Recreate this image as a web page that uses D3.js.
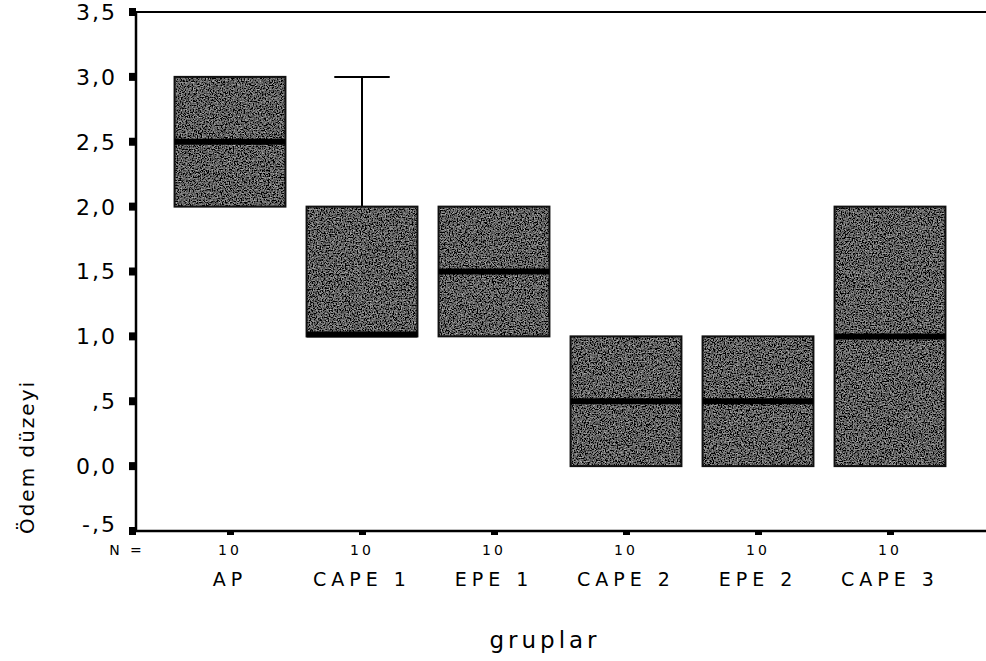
<!DOCTYPE html>
<html>
<head>
<meta charset="utf-8">
<script src="https://cdn.jsdelivr.net/npm/d3@7"></script>
<style>
  body { margin: 0; background: #fff; }
  text { font-family: "DejaVu Sans", "Liberation Sans", Arial, sans-serif; fill: #000; }
</style>
</head>
<body>
<div id="chart"></div>
<script>
// box plot data
var groups = ["AP", "CAPE 1", "EPE 1", "CAPE 2", "EPE 2", "CAPE 3"];
var counts = [10, 10, 10, 10, 10, 10];
var mins    = [2.0, 1.0, 1.0, 0.0, 0.0, 0.0];
var q1s     = [2.0, 1.0, 1.0, 0.0, 0.0, 0.0];
var medians = [2.5, 1.0, 1.5, 0.5, 0.5, 1.0];
var q3s     = [3.0, 2.0, 2.0, 1.0, 1.0, 2.0];
var maxs    = [3.0, 3.0, 2.0, 1.0, 1.0, 2.0];
var yTicks = [-0.5, 0, 0.5, 1, 1.5, 2, 2.5, 3, 3.5];
var yTickLabels = ["-,5", "0,0", ",5", "1,0", "1,5", "2,0", "2,5", "3,0", "3,5"];

var width = 986, height = 661;

var x = d3.scaleBand()
  .domain(groups)
  .range([164, 956])
  .paddingInner(0.16)
  .paddingOuter(0.08);

var y = d3.scaleLinear()
  .domain([-0.5, 3.5])
  .range([531, 12]);

var svg = d3.select("#chart").append("svg")
  .attr("width", width)
  .attr("height", height);

// grainy scan look for the boxes
var defs = svg.append("defs");
var f = defs.append("filter").attr("id", "grain")
  .attr("x", 0).attr("y", 0).attr("width", 1).attr("height", 1);
f.append("feTurbulence")
  .attr("type", "fractalNoise")
  .attr("baseFrequency", 0.75)
  .attr("numOctaves", 3)
  .attr("seed", 4)
  .attr("result", "noise");
f.append("feColorMatrix")
  .attr("in", "noise")
  .attr("type", "matrix")
  .attr("values", "0.33 0.33 0.33 0 0  0.33 0.33 0.33 0 0  0.33 0.33 0.33 0 0  0 0 0 0 1")
  .attr("result", "gray");
f.append("feComposite")
  .attr("in", "gray")
  .attr("in2", "SourceGraphic")
  .attr("operator", "arithmetic")
  .attr("k1", 0).attr("k2", 1.7).attr("k3", 1).attr("k4", -0.85)
  .attr("result", "mix");
f.append("feComposite")
  .attr("in", "mix")
  .attr("in2", "SourceGraphic")
  .attr("operator", "in");

var data = groups.map(function(g, i) {
  return { g: g, n: counts[i], min: mins[i], q1: q1s[i], med: medians[i], q3: q3s[i], max: maxs[i] };
});

// frame: left, top, bottom
svg.append("line")
  .attr("x1", 136).attr("x2", width)
  .attr("y1", y(3.5)).attr("y2", y(3.5))
  .attr("stroke", "#000").attr("stroke-width", 2);
svg.append("line")
  .attr("x1", 136).attr("x2", width)
  .attr("y1", y(-0.5)).attr("y2", y(-0.5))
  .attr("stroke", "#000").attr("stroke-width", 2.5);
svg.append("line")
  .attr("x1", 136).attr("x2", 136)
  .attr("y1", y(3.5)).attr("y2", y(-0.5))
  .attr("stroke", "#000").attr("stroke-width", 2.5);

// y ticks (little squares) and labels
var yg = svg.append("g");
yg.selectAll("rect.tick")
  .data(yTicks)
  .enter().append("rect")
  .attr("class", "tick")
  .attr("x", 129)
  .attr("y", function(d) { return y(d) - 4; })
  .attr("width", 7)
  .attr("height", 8)
  .attr("fill", "#000");
yg.selectAll("text")
  .data(yTicks)
  .enter().append("text")
  .attr("x", 117)
  .attr("y", function(d) { return y(d); })
  .attr("dy", function(d) { return d === -0.5 ? "0.05em" : "0.36em"; })
  .attr("text-anchor", "end")
  .style("font-size", "22px")
  .style("letter-spacing", "2px")
  .text(function(d, i) { return yTickLabels[i]; });

// whiskers
var box = svg.append("g");
box.selectAll("line.whisk")
  .data(data.filter(function(d) { return d.max > d.q3; }))
  .enter().append("line")
  .attr("class", "whisk")
  .attr("x1", function(d) { return x(d.g) + x.bandwidth() / 2; })
  .attr("x2", function(d) { return x(d.g) + x.bandwidth() / 2; })
  .attr("y1", function(d) { return y(d.q3); })
  .attr("y2", function(d) { return y(d.max); })
  .attr("stroke", "#000").attr("stroke-width", 2);
box.selectAll("line.cap")
  .data(data.filter(function(d) { return d.max > d.q3; }))
  .enter().append("line")
  .attr("class", "cap")
  .attr("x1", function(d) { return x(d.g) + x.bandwidth() * 0.25; })
  .attr("x2", function(d) { return x(d.g) + x.bandwidth() * 0.75; })
  .attr("y1", function(d) { return y(d.max); })
  .attr("y2", function(d) { return y(d.max); })
  .attr("stroke", "#000").attr("stroke-width", 2);

// boxes
box.selectAll("rect.box")
  .data(data)
  .enter().append("rect")
  .attr("class", "box")
  .attr("x", function(d) { return x(d.g); })
  .attr("y", function(d) { return y(d.q3); })
  .attr("width", x.bandwidth())
  .attr("height", function(d) { return y(d.q1) - y(d.q3); })
  .attr("fill", "#626262")
  .attr("filter", "url(#grain)");
box.selectAll("rect.outline")
  .data(data)
  .enter().append("rect")
  .attr("class", "outline")
  .attr("x", function(d) { return x(d.g); })
  .attr("y", function(d) { return y(d.q3); })
  .attr("width", x.bandwidth())
  .attr("height", function(d) { return y(d.q1) - y(d.q3); })
  .attr("fill", "none")
  .attr("stroke", "#111")
  .attr("stroke-width", 2);

// medians
box.selectAll("line.med")
  .data(data)
  .enter().append("line")
  .attr("class", "med")
  .attr("x1", function(d) { return x(d.g); })
  .attr("x2", function(d) { return x(d.g) + x.bandwidth(); })
  .attr("y1", function(d) { return y(d.med) - (d.med === d.q1 ? 2 : 0); })
  .attr("y2", function(d) { return y(d.med) - (d.med === d.q1 ? 2 : 0); })
  .attr("stroke", "#000").attr("stroke-width", 6);

// x ticks, N and category labels
var xg = svg.append("g");
xg.selectAll("rect")
  .data(groups)
  .enter().append("rect")
  .attr("x", function(d) { return x(d) + x.bandwidth() / 2 - 3; })
  .attr("y", y(-0.5))
  .attr("width", 7)
  .attr("height", 4)
  .attr("fill", "#000");
xg.append("text")
  .attr("x", 127)
  .attr("y", 555)
  .attr("text-anchor", "middle")
  .style("font-size", "14px")
  .style("letter-spacing", "3px")
  .text("N =");
xg.selectAll("text.n")
  .data(data)
  .enter().append("text")
  .attr("class", "n")
  .attr("x", function(d) { return x(d.g) + x.bandwidth() / 2; })
  .attr("y", 555)
  .attr("text-anchor", "middle")
  .style("font-size", "14px")
  .style("letter-spacing", "3px")
  .text(function(d) { return d.n; });
xg.selectAll("text.cat")
  .data(groups)
  .enter().append("text")
  .attr("class", "cat")
  .attr("x", function(d) { return x(d) + x.bandwidth() / 2; })
  .attr("y", 586)
  .attr("text-anchor", "middle")
  .style("font-size", "19px")
  .style("letter-spacing", "5px")
  .text(function(d) { return d; });

// axis titles
svg.append("text")
  .attr("x", 545)
  .attr("y", 648)
  .attr("text-anchor", "middle")
  .style("font-size", "23px")
  .style("letter-spacing", "4px")
  .text("gruplar");
svg.append("text")
  .attr("transform", "translate(34,457) rotate(-90)")
  .attr("text-anchor", "middle")
  .style("font-size", "20px")
  .style("letter-spacing", "2px")
  .text("Ödem düzeyi");
</script>
</body>
</html>
